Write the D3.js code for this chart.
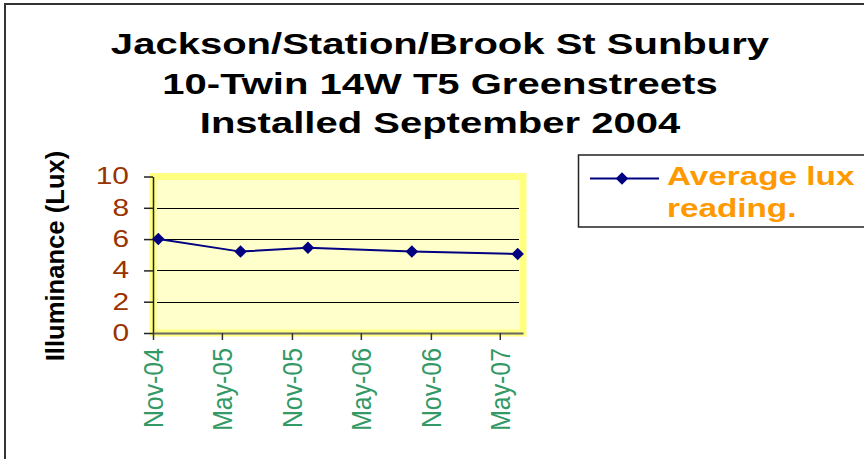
<!DOCTYPE html>
<html>
<head>
<meta charset="utf-8">
<script src="https://cdn.jsdelivr.net/npm/d3@7"></script>
<style>
  body { margin: 0; background: #fff; }
  svg { display: block; font-family: Arial, "Liberation Sans", sans-serif; }
  .grid { stroke: #000; stroke-width: 1; }
</style>
</head>
<body>
<div class="container"></div>
<script>
// data
var readingDates = ["2004-11-15", "2005-06-19", "2005-12-13", "2006-09-12", "2007-06-17"];
var luxValues = [6.0, 5.2, 5.45, 5.2, 5.05];
var xTickDates = ["2004-11-01", "2005-05-01", "2005-11-01", "2006-05-01", "2006-11-01", "2007-05-01"];
var yTickValues = [0, 2, 4, 6, 8, 10];
var gridValues = [2, 4, 6, 8];
var titleLines = ["Jackson/Station/Brook St Sunbury", "10-Twin 14W T5 Greenstreets", "Installed September 2004"];
var yTitle = "Illuminance (Lux)";
var legendLines = ["Average lux", "reading."];

const WIDTH = 864;
const HEIGHT = 459;
const PLOT_LEFT = 153;
const PLOT_RIGHT = 523;
const PLOT_TOP = 176.5;
const PLOT_BOTTOM = 333;

var parseDate = d3.timeParse("%Y-%m-%d");
var fmt = d3.timeFormat("%b-%y");

var data = readingDates.map(function (d, i) { return {date: parseDate(d), value: luxValues[i]}; });

var translate = function (x, y) {
  return "translate(" + x + "," + y + ")";
};

// the picture is stretched sideways, so text is widened to match
var stretch = function (sel, f) {
  sel.each(function () {
    var w = this.getComputedTextLength();
    d3.select(this).attr("textLength", w * f).attr("lengthAdjust", "spacingAndGlyphs");
  });
};

var svg = d3.select(".container").append("svg")
  .attr("width", WIDTH)
  .attr("height", HEIGHT);

// outer chart border (runs off the right and bottom)
svg.append("rect")
  .attr("x", 5).attr("y", 4)
  .attr("width", 950).attr("height", 520)
  .attr("fill", "none").attr("stroke", "#333").attr("stroke-width", 2);

var xScale = d3.scaleTime()
  .domain([parseDate("2004-11-01"), parseDate("2007-07-01")])
  .range([PLOT_LEFT, PLOT_RIGHT]);

var yScale = d3.scaleLinear()
  .domain([0, 10])
  .range([PLOT_BOTTOM, PLOT_TOP]);

// title
var title = svg.append("g");
title.selectAll("text").data(titleLines)
  .enter().append("text")
  .attr("x", 440)
  .attr("y", function (d, i) { return 54 + i * 39.5; })
  .attr("text-anchor", "middle")
  .attr("font-size", 29)
  .attr("font-weight", "bold")
  .attr("fill", "#000")
  .text(function (d) { return d; });
stretch(title.selectAll("text"), 1.38);

// plot area
svg.append("rect")
  .attr("x", PLOT_LEFT).attr("y", PLOT_TOP)
  .attr("width", PLOT_RIGHT - PLOT_LEFT)
  .attr("height", PLOT_BOTTOM - PLOT_TOP)
  .attr("fill", "#FFFFCC")
  .attr("stroke", "#FFFF80")
  .attr("stroke-width", 7);

svg.append("g").selectAll("line").data(gridValues)
  .enter().append("line")
  .classed("grid", true)
  .attr("x1", PLOT_LEFT + 4)
  .attr("x2", PLOT_RIGHT - 4)
  .attr("y1", function (d) { return Math.round(yScale(d)) + 0.5; })
  .attr("y2", function (d) { return Math.round(yScale(d)) + 0.5; });

// axes
var yAxis = d3.axisLeft(yScale).tickValues(yTickValues).tickSize(9).tickPadding(15).tickSizeOuter(0);
var gy = svg.append("g")
  .attr("transform", translate(PLOT_LEFT, 0))
  .call(yAxis);
gy.select(".domain").attr("stroke", "#222").attr("stroke-width", 1.5);
gy.selectAll(".tick line").attr("stroke", "#222").attr("stroke-width", 1.5);
gy.selectAll(".tick text")
  .attr("font-size", 23)
  .attr("fill", "#993300")
  .attr("font-family", null);
stretch(gy.selectAll(".tick text"), 1.3);

var xAxis = d3.axisBottom(xScale)
  .tickValues(xTickDates.map(parseDate))
  .tickFormat(fmt)
  .tickSize(7)
  .tickSizeOuter(0);
var gx = svg.append("g")
  .attr("transform", translate(0, PLOT_BOTTOM))
  .call(xAxis);
gx.select(".domain").attr("stroke", "#666").attr("stroke-width", 2);
gx.selectAll(".tick line").attr("stroke", "#333").attr("stroke-width", 1.5);
gx.selectAll(".tick text")
  .attr("font-size", 27)
  .attr("fill", "#339966")
  .attr("font-family", null)
  .attr("text-anchor", "end")
  .attr("transform", "rotate(-90)")
  .attr("x", -15)
  .attr("y", 0)
  .attr("dy", "0.36em");
stretch(gx.selectAll(".tick text"), 0.92);

// y axis title
var yt = svg.append("text")
  .attr("transform", translate(64, 256) + " rotate(-90)")
  .attr("text-anchor", "middle")
  .attr("font-size", 26)
  .attr("font-weight", "bold")
  .attr("fill", "#000")
  .text(yTitle);
stretch(yt, 0.985);

// series
var line = d3.line()
  .x(function (d) { return xScale(d.date); })
  .y(function (d) { return yScale(d.value); });

svg.append("path")
  .attr("d", line(data))
  .attr("fill", "none")
  .attr("stroke", "#000080")
  .attr("stroke-width", 2);

var diamond = d3.symbol().type(d3.symbolSquare).size(78);

svg.append("g").selectAll("path").data(data)
  .enter().append("path")
  .attr("d", diamond)
  .attr("transform", function (d) { return translate(xScale(d.date), yScale(d.value)) + " rotate(45)"; })
  .attr("fill", "#000080");

// legend
var legend = svg.append("g");
legend.append("rect")
  .attr("x", 578.5).attr("y", 155)
  .attr("width", 320).attr("height", 72)
  .attr("fill", "#fff").attr("stroke", "#222").attr("stroke-width", 1.5);
legend.append("line")
  .attr("x1", 590).attr("x2", 659)
  .attr("y1", 178.5).attr("y2", 178.5)
  .attr("stroke", "#000080").attr("stroke-width", 2);
legend.append("path")
  .attr("d", diamond)
  .attr("transform", translate(622, 178.5) + " rotate(45)")
  .attr("fill", "#000080");
legend.selectAll("text").data(legendLines)
  .enter().append("text")
  .attr("x", 667)
  .attr("y", function (d, i) { return 185 + i * 31.5; })
  .attr("font-size", 26)
  .attr("font-weight", "bold")
  .attr("fill", "#FF9900")
  .text(function (d) { return d; });
stretch(legend.selectAll("text"), 1.28);
</script>
</body>
</html>
